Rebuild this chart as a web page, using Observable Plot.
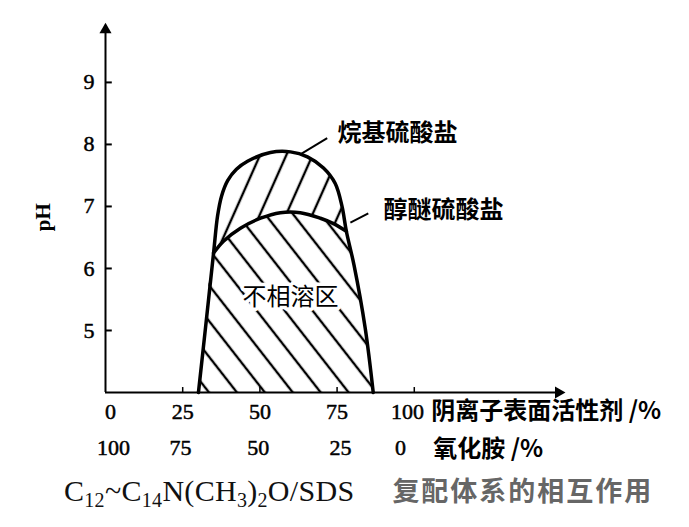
<!DOCTYPE html>
<html><head><meta charset="utf-8">
<script src="https://cdn.jsdelivr.net/npm/d3@7"></script>
<script src="https://cdn.jsdelivr.net/npm/@observablehq/plot@0.6"></script>
<style>
body{margin:0;background:#fff;}
#chart svg{display:block}
#caption{font-family:"Liberation Serif",serif;font-size:30px;line-height:36px;height:55px;white-space:nowrap;padding-left:64px;color:#111;letter-spacing:0.3px}
#caption .cjk{font-family:"Noto Sans CJK SC",sans-serif;font-weight:700;color:#666;font-size:27px;margin-left:38px;letter-spacing:2px}
#caption sub{font-size:20px;vertical-align:-6px;line-height:0}
</style></head><body>
<div id="chart"></div>
<div id="caption">C<sub>12</sub>~C<sub>14</sub>N(CH<sub>3</sub>)<sub>2</sub>O/SDS<span class="cjk">复配体系的相互作用</span></div>
<script>
// Outer boundary (烷基硫酸盐): x = anionic surfactant %, y = pH
const outerX  = [30.1, 32.4, 35.0, 36.3, 37.6, 39.6, 42.4, 46.0, 53.4, 59.9, 65.4, 70.6, 74.4, 76.6, 78.0, 80.5, 84.1, 86.7];
const outerPH = [4.0, 5.05, 6.25, 6.85, 7.17, 7.42, 7.6, 7.73, 7.87, 7.88, 7.8, 7.62, 7.37, 7.0, 6.6, 6.05, 5.04, 4.0];
// Inner boundary (醇醚硫酸盐)
const innerX  = [35.0, 38.2, 43.7, 50.2, 56.6, 63.1, 69.6, 74.0, 78.0];
const innerPH = [6.25, 6.44, 6.65, 6.81, 6.90, 6.90, 6.81, 6.72, 6.6];

const yTicks = [5, 6, 7, 8, 9];
const xTicks = [25, 50, 75, 100];
const anionLabels = [0, 25, 50, 75, 100];
const anionLabelPos = [1.6, 25, 50, 75, 97.8];
const amineLabels = [100, 75, 50, 25, 0];
const amineLabelPos = [2.6, 24.3, 49.5, 76.1, 95.5];

const outerName = "烷基硫酸盐";
const innerName = "醇醚硫酸盐";
const regionName = "不相溶区";
const xTitle1 = "阴离子表面活性剂 /%";
const xTitle2 = "氧化胺 /%";
const yTitle = "pH";

const notes = [
  {label: outerName, x: 75.1, y: 8.18, x1: 63.1, y1: 7.84, x2: 71.8, y2: 8.10},
  {label: innerName, x: 90.0, y: 6.94, x1: 79.3, y1: 6.74, x2: 85.1, y2: 6.89}
];
const regionNote = [{label: regionName, x: 59.9, y: 5.53}];

const outer = outerX.map((x, i) => ({x, y: outerPH[i]}));
const inner = innerX.map((x, i) => ({x, y: innerPH[i]}));
const jL = innerX[0], jR = innerX[innerX.length - 1];
const lowerPoly = [...outer.filter(d => d.x <= jL), ...inner.slice(1, -1), ...outer.filter(d => d.x >= jR)];
const upperPoly = [...outer.filter(d => d.x >= jL && d.x <= jR), ...inner.slice().reverse().slice(1, -1)];

const yMin = 4, yMax = 9.95, xMax = 148;
const serif = "Liberation Serif";
const cjk = "Noto Sans CJK SC";
const num = {fontSize: 22, fill: "black", stroke: "black", strokeWidth: 0.5};

const plot = Plot.plot({
  width: 689, height: 472,
  marginLeft: 105, marginRight: 689 - 562, marginTop: 23, marginBottom: 80,
  x: {domain: [0, xMax], axis: null},
  y: {domain: [yMin, yMax], axis: null},
  style: {fontFamily: serif, background: "white", color: "black", overflow: "visible"},
  marks: [
    Plot.line(lowerPoly, {x: "x", y: "y", fill: "url(#hatchDown)", stroke: "none", curve: "catmull-rom"}),
    Plot.line(upperPoly, {x: "x", y: "y", fill: "url(#hatchUp)", stroke: "none", curve: "catmull-rom"}),
    Plot.line(outer, {x: "x", y: "y", stroke: "black", strokeWidth: 3.5, curve: "catmull-rom"}),
    Plot.line(inner, {x: "x", y: "y", stroke: "black", strokeWidth: 3.5, curve: "catmull-rom"}),
    // axes
    Plot.ruleX([0], {y1: yMin, y2: yMax - 0.15, stroke: "black", strokeWidth: 2}),
    Plot.ruleY([yMin], {x1: 0, x2: xMax - 2, stroke: "black", strokeWidth: 2}),
    Plot.dot([0], {x: d => d, y: yMax - 0.1, symbol: "triangle", r: 4.5, fill: "black", stroke: "none"}),
    Plot.dot([0], {x: xMax - 1.3, y: yMin, symbol: "triangle", r: 4.5, fill: "black", stroke: "none", rotate: 90}),
    Plot.ruleY(yTicks, {y: d => d, x1: 0, x2: 2.2, stroke: "black", strokeWidth: 2}),
    Plot.ruleX(xTicks, {x: d => d, y1: yMin, y2: yMin + 0.08, stroke: "black", strokeWidth: 1.5}),
    Plot.text(yTicks, {y: d => d, text: d => String(d), frameAnchor: "left", dx: -22, ...num}),
    Plot.text([yTitle], {y: 6.6, text: d => d, frameAnchor: "left", dx: -62, rotate: -90, fontSize: 21, fontWeight: "bold"}),
    // two-row x labels
    Plot.text(anionLabels, {x: (d, i) => anionLabelPos[i], text: d => String(d), frameAnchor: "bottom", dy: 26, ...num}),
    Plot.text([xTitle1], {x: 100, text: d => d, frameAnchor: "bottom", dy: 26, dx: 17, textAnchor: "start", fontFamily: cjk, fontWeight: "bold", fontSize: 24}),
    Plot.text(amineLabels, {x: (d, i) => amineLabelPos[i], text: d => String(d), frameAnchor: "bottom", dy: 62, ...num}),
    Plot.text([xTitle2], {x: 100, text: d => d, frameAnchor: "bottom", dy: 64, dx: 19, textAnchor: "start", fontFamily: cjk, fontWeight: "bold", fontSize: 24}),
    // annotations
    Plot.link(notes, {x1: "x1", y1: "y1", x2: "x2", y2: "y2", stroke: "black", strokeWidth: 2}),
    Plot.text(notes, {x: "x", y: "y", text: "label", textAnchor: "start", fontFamily: cjk, fontWeight: "bold", fontSize: 24}),
    Plot.text(regionNote, {x: "x", y: "y", text: "label", fontFamily: cjk, fontSize: 24, stroke: "white", strokeWidth: 7, fill: "black"})
  ]
});

// hatch patterns
const svg = d3.select(plot);
const defs = svg.insert("defs", ":first-child");
function hatch(id, angle, spacing, width) {
  const p = defs.append("pattern").attr("id", id).attr("patternUnits", "userSpaceOnUse")
    .attr("width", spacing).attr("height", spacing).attr("patternTransform", `rotate(${angle})`);
  p.append("line").attr("x1", spacing / 2).attr("x2", spacing / 2).attr("y1", -1).attr("y2", spacing + 1)
    .attr("stroke", "black").attr("stroke-width", width);
}
hatch("hatchUp", 24, 24, 2.4);
hatch("hatchDown", -38, 22, 2.4);

document.getElementById("chart").appendChild(plot);
</script>
</body></html>
